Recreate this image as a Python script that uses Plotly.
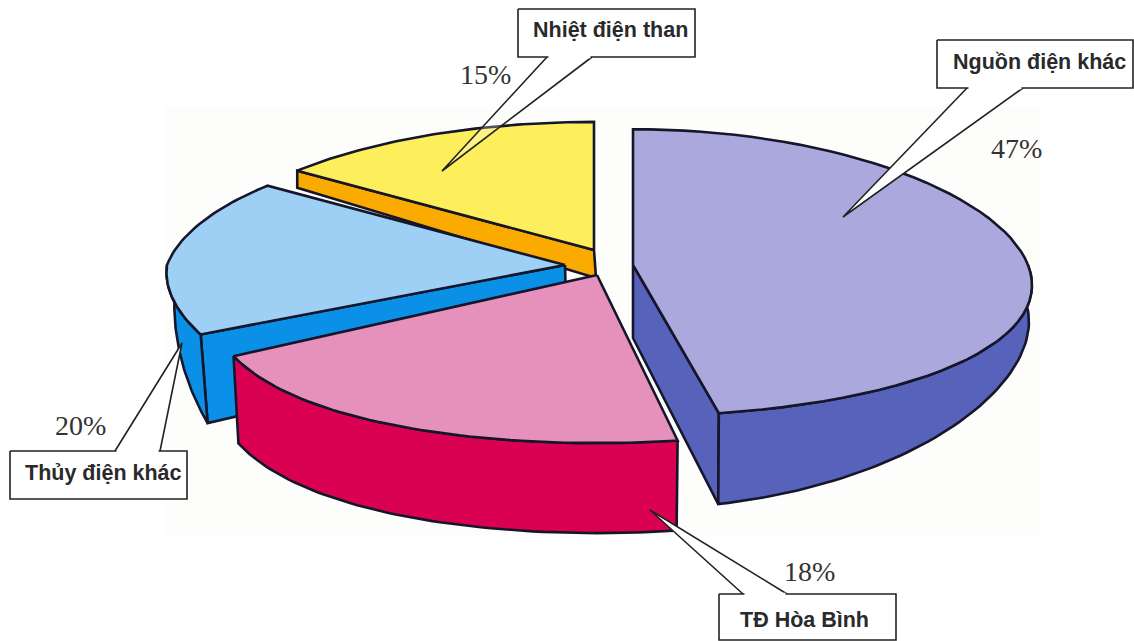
import math
import plotly.graph_objects as go

# ---- data (clockwise from 12 o'clock) ----
categories = ["Nguồn điện khác", "TĐ Hòa Bình", "Thủy điện khác", "Nhiệt điện than"]
values = [47, 18, 20, 15]

# ---- styling / projection of the tilted, exploded pie ----
top_colors = ["#aaa8dd", "#e690bc", "#9ed0f6", "#fdee5c"]
wall_colors = ["#5763bb", "#da0052", "#0b90e8", "#fbab00"]
OUTLINE = "#16162a"
slice_geom = [
    dict(cx=633, cy=265, R=395, Ry=143, kf=.14, kb=.14, ky=.053, d0=35, d1=58, p=2, s=3, tip=73, outer=(90, None), inner="end"),
    dict(cx=597, cy=275, R=388, Ry=195, kf=.10, kb=.10, ky=-.16, d0=85, d1=5, p=1, s=5.5, tip=85, outer=(None, None), inner=None),
    dict(cx=565, cy=265, R=398, Ry=146, kf=.05, kb=.14, ky=.14, d0=24, d1=145, p=1, s=7.8, tip=75, outer=(None, 270), inner="start"),
    dict(cx=594, cy=250, R=397, Ry=146, kf=.14, kb=.14, ky=.14, d0=17, d1=0, p=1, s=0, tip=28, outer=None, inner="start"),
]
draw_order = [3, 2, 1, 0]

callouts = [
    dict(name=0, box=(937, 40, 1133, 88), ptr=((967, 843, 1023), (88, 217, 88)), text=(1039, 62), pct="47%", pct_at=(1016, 148), fill="white"),
    dict(name=1, box=(719, 594, 896, 640), ptr=((743, 650, 787), (594, 510, 594)), text=(804, 620), pct="18%", pct_at=(809, 571), fill="white"),
    dict(name=2, box=(10, 451, 187, 499), ptr=((115, 182, 160), (451, 343, 451)), text=(103, 473), pct="20%", pct_at=(80, 425), fill="white"),
    dict(name=3, box=(518, 9, 695, 57), ptr=((547, 442, 592), (57, 171, 57)), text=(610, 30), pct="15%", pct_at=(485, 74), fill="rgba(255,255,255,0.25)"),
]


def warp(t):
    if 180 < t < 270:
        return t + 10 * max(0.0, math.sin(math.radians(2 * t)))
    return t


def top_pt(g, t):
    a = math.radians(warp(t))
    u, v = math.sin(a), math.cos(a)
    kx = g["kb"] if v > 0 else g["kf"]
    return g["cx"] + g["R"] * u / (1 + kx * v), g["cy"] - g["Ry"] * v / (1 + g["ky"] * v)


def bot_pt(g, t):
    a = math.radians(warp(t))
    u, v = math.sin(a), math.cos(a)
    x, y = top_pt(g, t)
    d = g["d0"] + (g["d1"] * abs(v) ** g["p"] if v < 0 else 0)
    return x - g["s"] * u, y + d


def sweep(a, b, n=60):
    return [a + (b - a) * i / n for i in range(n + 1)]


def poly(fig, xs, ys, fill, name, width=2.6):
    fig.add_trace(go.Scatter(
        x=xs + xs[:1], y=ys + ys[:1], mode="lines", fill="toself", fillcolor=fill,
        line=dict(color=OUTLINE, width=width), name=name, showlegend=False, hoverinfo="name",
    ))


fig = go.Figure()

# slice angles from the values
total = sum(values)
starts, ends, acc = [], [], 0.0
for val in values:
    starts.append(acc)
    acc += val / total * 360
    ends.append(acc)

for i in draw_order:
    g = slice_geom[i]
    a, b = starts[i], ends[i]
    name = categories[i]
    if g["inner"]:
        t = a if g["inner"] == "start" else b
        tx, ty = top_pt(g, t)
        bx, by = bot_pt(g, t)
        poly(fig, [g["cx"], tx, bx, g["cx"] + (2 if g["inner"] == "start" else 0)],
             [g["cy"], ty, by, g["cy"] + g["tip"]], wall_colors[i], name)
    if g["outer"] is not None:
        oa = g["outer"][0] if g["outer"][0] is not None else a
        ob = g["outer"][1] if g["outer"][1] is not None else b
        ts = sweep(oa, ob)
        tp = [top_pt(g, t) for t in ts]
        bp = [bot_pt(g, t) for t in reversed(ts)]
        poly(fig, [p[0] for p in tp + bp], [p[1] for p in tp + bp], wall_colors[i], name)
    pts = [top_pt(g, t) for t in sweep(a, b)]
    poly(fig, [g["cx"]] + [p[0] for p in pts], [g["cy"]] + [p[1] for p in pts], top_colors[i], name)

annotations = []
for c in callouts:
    x0, y0, x1, y1 = c["box"]
    # pointer
    fig.add_trace(go.Scatter(x=list(c["ptr"][0]), y=list(c["ptr"][1]), mode="lines", fill="toself",
                             fillcolor=c["fill"], line=dict(color="#222222", width=1.6),
                             showlegend=False, hoverinfo="skip"))
    # box
    fig.add_trace(go.Scatter(x=[x0, x1, x1, x0, x0], y=[y0, y0, y1, y1, y0], mode="lines", fill="toself",
                             fillcolor="white", line=dict(color="#222222", width=1.6),
                             showlegend=False, hoverinfo="skip"))
    # erase the box's edge where the pointer joins
    px, py = c["ptr"]
    fig.add_trace(go.Scatter(x=[px[0] + 1.5, px[2] - 1.5], y=[py[0], py[2]], mode="lines",
                             line=dict(color="white", width=2.6), showlegend=False, hoverinfo="skip"))
    annotations.append(dict(x=c["text"][0], y=c["text"][1], text=f"<b>{categories[c['name']]}</b>",
                            showarrow=False, xref="x", yref="y",
                            font=dict(family="Liberation Sans", size=21.5, color="#2a2a2a")))
    annotations.append(dict(x=c["pct_at"][0], y=c["pct_at"][1], text=c["pct"], showarrow=False, xref="x", yref="y",
                            font=dict(family="Liberation Serif", size=28, color="#333333")))

fig.update_layout(
    width=1134, height=641, margin=dict(l=0, r=0, t=0, b=0),
    paper_bgcolor="white", plot_bgcolor="white", showlegend=False, annotations=annotations,
    xaxis=dict(range=[0, 1134], visible=False, fixedrange=True),
    yaxis=dict(range=[641, 0], visible=False, fixedrange=True),
    shapes=[dict(type="rect", xref="x", yref="y", x0=165, y0=106, x1=1040, y1=535,
                 fillcolor="#fdfdfb", line=dict(width=0), layer="below")],
)
fig.write_html("out.html", config=dict(displayModeBar=False),
               post_script="document.body.style.margin='0';document.body.style.overflow='hidden';")
